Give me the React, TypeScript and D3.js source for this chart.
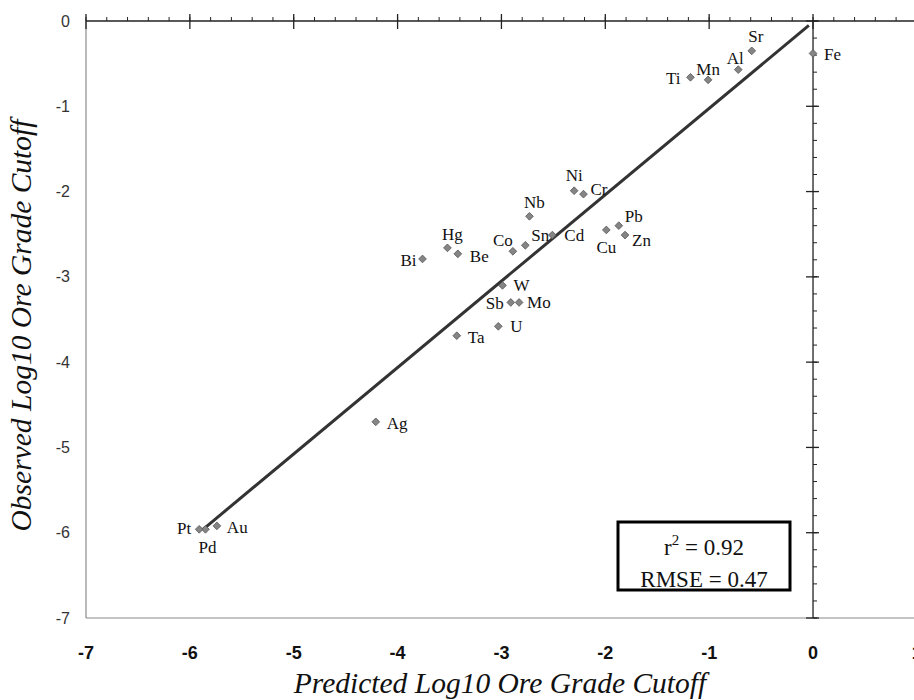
import React, { useRef, useEffect } from "react";
import * as d3 from "d3";

const elements = ["Sr", "Fe", "Al", "Mn", "Ti", "Ni", "Cr", "Nb", "Pb", "Cu", "Zn", "Cd", "Sn", "Co", "Hg", "Be", "Bi", "W", "Sb", "Mo", "U", "Ta", "Ag", "Au", "Pd", "Pt"];
const predicted = [-0.59, 0.0, -0.72, -1.01, -1.18, -2.3, -2.21, -2.73, -1.87, -1.99, -1.81, -2.51, -2.77, -2.89, -3.52, -3.42, -3.76, -2.99, -2.91, -2.83, -3.03, -3.43, -4.21, -5.74, -5.85, -5.91];
const observed = [-0.35, -0.38, -0.57, -0.69, -0.66, -1.99, -2.03, -2.29, -2.4, -2.45, -2.51, -2.51, -2.63, -2.7, -2.66, -2.73, -2.79, -3.1, -3.3, -3.3, -3.58, -3.69, -4.7, -5.92, -5.96, -5.96];

const xTicks = [-7, -6, -5, -4, -3, -2, -1, 0, 1];
const yTicks = [0, -1, -2, -3, -4, -5, -6, -7];

// fitted line
const fitSlope = 1.013;
const fitIntercept = -0.011;
const fitRange = [-5.87, -0.04];

const r2 = "0.92";
const rmse = "0.47";

// label placement: anchor, dx, dy (px from the marker)
const labelPlace = {
  Sr: ["middle", 4, -15], Fe: ["start", 11, 1], Al: ["middle", -3, -12], Mn: ["middle", 0, -11],
  Ti: ["end", -10, 1], Ni: ["middle", 0, -16], Cr: ["start", 7, -5], Nb: ["middle", 5, -14],
  Pb: ["start", 6, -10], Cu: ["middle", 0, 17], Zn: ["start", 7, 5], Cd: ["start", 12, 0],
  Sn: ["start", 6, -10], Co: ["end", 0, -11], Hg: ["middle", 5, -14], Be: ["start", 12, 2],
  Bi: ["end", -6, 1], W: ["start", 11, 0], Sb: ["end", -7, 1], Mo: ["start", 8, 0],
  U: ["start", 12, 0], Ta: ["start", 11, 1], Ag: ["start", 11, 1], Au: ["start", 10, 1],
  Pd: ["middle", 2, 18], Pt: ["end", -8, -1],
};

const W = 914;
const H = 700;

function Chart() {
  const ref = useRef(null);

  useEffect(() => {
    const svg = d3.select(ref.current);
    svg.selectAll("*").remove();

    const x = d3.scaleLinear().domain([-7, 1]).range([86, 86 + 8 * 103.86]);
    const y = d3.scaleLinear().domain([-7, 0]).range([618, 21]);
    const serif = "'Liberation Serif', 'Times New Roman', serif";

    svg.append("rect").attr("width", W).attr("height", H).attr("fill", "#fff");

    // plot area border (left + bottom)
    svg.append("line")
      .attr("x1", x(-7)).attr("x2", x(-7)).attr("y1", y(0)).attr("y2", y(-7))
      .attr("stroke", "#8a8a8a").attr("stroke-width", 1.2);
    svg.append("line")
      .attr("x1", x(-7)).attr("x2", W).attr("y1", y(-7)).attr("y2", y(-7))
      .attr("stroke", "#8a8a8a").attr("stroke-width", 1.2);

    // x axis crossing at y = 0
    const xMinor = d3.range(-7, 1.01, 0.2);
    svg.append("line")
      .attr("x1", x(-7)).attr("x2", W).attr("y1", y(0)).attr("y2", y(0))
      .attr("stroke", "#222").attr("stroke-width", 1.3);
    svg.append("g").selectAll("line").data(xMinor).enter().append("line")
      .attr("x1", (d) => x(d)).attr("x2", (d) => x(d))
      .attr("y1", y(0) - 4).attr("y2", y(0))
      .attr("stroke", "#222");
    svg.append("g").selectAll("line").data(xTicks).enter().append("line")
      .attr("x1", (d) => x(d)).attr("x2", (d) => x(d))
      .attr("y1", y(0) - 7).attr("y2", y(0) + 8)
      .attr("stroke", "#222").attr("stroke-width", 1.3);

    // y axis crossing at x = 0
    const yMinor = d3.range(-7, 0.01, 0.2);
    svg.append("line")
      .attr("x1", x(0)).attr("x2", x(0)).attr("y1", y(0)).attr("y2", y(-7))
      .attr("stroke", "#222").attr("stroke-width", 1.3);
    svg.append("g").selectAll("line").data(yMinor).enter().append("line")
      .attr("x1", x(0)).attr("x2", x(0) + 4)
      .attr("y1", (d) => y(d)).attr("y2", (d) => y(d))
      .attr("stroke", "#222");
    svg.append("g").selectAll("line").data(yTicks).enter().append("line")
      .attr("x1", x(0) - 7).attr("x2", x(0) + 6)
      .attr("y1", (d) => y(d)).attr("y2", (d) => y(d))
      .attr("stroke", "#222").attr("stroke-width", 1.3);

    // tick labels
    svg.append("g").selectAll("text").data(yTicks).enter().append("text")
      .attr("x", 70).attr("y", (d) => y(d))
      .attr("dy", "0.35em").attr("text-anchor", "end")
      .attr("font-family", "'Liberation Sans', Arial, sans-serif")
      .attr("font-size", 16).attr("fill", "#333")
      .text((d) => d);
    svg.append("g").selectAll("text").data(xTicks).enter().append("text")
      .attr("x", (d) => x(d)).attr("y", 653)
      .attr("dy", "0.35em").attr("text-anchor", "middle")
      .attr("font-family", "'Liberation Sans', Arial, sans-serif")
      .attr("font-weight", "bold").attr("font-size", 18).attr("fill", "#111")
      .text((d) => d);

    // axis titles
    svg.append("text")
      .attr("x", (x(-7) + W) / 2).attr("y", 693)
      .attr("text-anchor", "middle").attr("font-family", serif)
      .attr("font-style", "italic").attr("font-size", 29.5).attr("fill", "#111")
      .text("Predicted Log10 Ore Grade Cutoff");
    svg.append("text")
      .attr("transform", `translate(31, ${(y(0) + y(-7)) / 2 + 6}) rotate(-90)`)
      .attr("text-anchor", "middle").attr("font-family", serif)
      .attr("font-style", "italic").attr("font-size", 29.5).attr("fill", "#111")
      .text("Observed Log10 Ore Grade Cutoff");

    // fit line
    svg.append("line")
      .attr("x1", x(fitRange[0])).attr("y1", y(fitSlope * fitRange[0] + fitIntercept))
      .attr("x2", x(fitRange[1])).attr("y2", y(fitSlope * fitRange[1] + fitIntercept))
      .attr("stroke", "#333").attr("stroke-width", 3);

    // points
    const pts = elements.map((name, i) => ({ name, px: predicted[i], ob: observed[i] }));
    const diamond = d3.symbol().type(d3.symbolDiamond2).size(38);
    svg.append("g").selectAll("path").data(pts).enter().append("path")
      .attr("d", diamond)
      .attr("transform", (d) => `translate(${x(d.px)}, ${y(d.ob)})`)
      .attr("fill", "#858585").attr("stroke", "#555").attr("stroke-width", 0.8);

    svg.append("g").selectAll("text").data(pts).enter().append("text")
      .attr("x", (d) => x(d.px) + labelPlace[d.name][1])
      .attr("y", (d) => y(d.ob) + labelPlace[d.name][2])
      .attr("dy", "0.35em")
      .attr("text-anchor", (d) => labelPlace[d.name][0])
      .attr("font-family", serif).attr("font-size", 17).attr("fill", "#111")
      .text((d) => d.name);

    // stats box
    const box = svg.append("g");
    box.append("rect")
      .attr("x", 618).attr("y", 522).attr("width", 172).attr("height", 68)
      .attr("fill", "#fff").attr("stroke", "#000").attr("stroke-width", 3);
    const t1 = box.append("text")
      .attr("x", 704).attr("y", 555).attr("text-anchor", "middle")
      .attr("font-family", serif).attr("font-size", 23).attr("fill", "#111");
    t1.append("tspan").text("r");
    t1.append("tspan").attr("dy", -10).attr("font-size", 15).text("2");
    t1.append("tspan").attr("dy", 10).text(` = ${r2}`);
    box.append("text")
      .attr("x", 704).attr("y", 587).attr("text-anchor", "middle")
      .attr("font-family", serif).attr("font-size", 23).attr("fill", "#111")
      .text(`RMSE = ${rmse}`);
  }, []);

  return <svg ref={ref} width={W} height={H} style={{ display: "block" }} />;
}

export default function App() {
  return (
    <div>
      <style>{"body { margin: 0; }"}</style>
      <Chart />
    </div>
  );
}
